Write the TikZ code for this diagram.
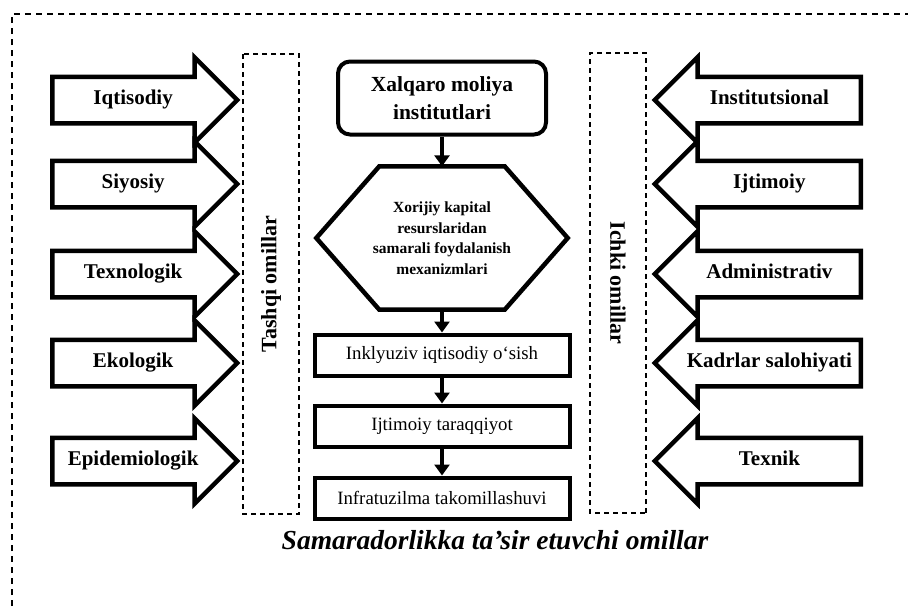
\documentclass[tikz,border=0pt]{standalone}
\usepackage{fontspec}
\setmainfont{Liberation Serif}
\usetikzlibrary{shapes.arrows,arrows.meta}

\begin{document}
\begin{tikzpicture}[x=1pt, y=-1pt,
    factor/.style={single arrow, draw=black, line width=4.5pt, single arrow head extend=19.5pt, minimum height=185pt, inner xsep=4pt, inner ysep=11.5pt, text height=14pt, text depth=5pt, font=\fontsize{21}{25}\selectfont\bfseries},
    factorin/.style={factor, minimum height=206pt, shape border rotate=180},
    group/.style={rectangle, draw=black, dash pattern=on 5pt off 4pt, line width=1.3pt, minimum width=460pt, minimum height=56pt, font=\fontsize{22}{26}\selectfont\bfseries},
    source/.style={rectangle, rounded corners=12pt, draw=black, line width=4pt, minimum width=208pt, minimum height=73pt, align=center, font=\fontsize{21.5}{28}\selectfont\bfseries},
    mech/.style={rectangle, minimum width=251pt, minimum height=143pt, align=center, font=\fontsize{15.5}{20.5}\selectfont\bfseries},
    result/.style={rectangle, draw=black, line width=4pt, minimum width=255pt, minimum height=41pt, font=\fontsize{18.8}{22}\selectfont},
    flow/.style={-{Triangle[length=11pt,width=15pt]}, line width=4pt},
    frame/.style={draw=black, dash pattern=on 6pt off 5pt, line width=1.5pt},
    caption/.style={font=\fontsize{27.5}{31}\selectfont\bfseries\itshape}
]
\useasboundingbox (0,0) rectangle (908,606);

% Outer frame
\draw[frame] (12,606) -- (12,14) -- (908,14);

% External factors
\node[factor, anchor=tail] (iqtisodiy) at (50,100) {Iqtisodiy};
\node[factor, anchor=tail] (siyosiy) at (50,184) {Siyosiy};
\node[factor, anchor=tail] (texnologik) at (50,274) {Texnologik};
\node[factor, anchor=tail] (ekologik) at (50,363) {Ekologik};
\node[factor, anchor=tail] (epidem) at (50,461) {Epidemiologik};
\node[group, rotate=90] (external) at (271,284) {Tashqi omillar};

% Internal factors
\node[factorin, anchor=tail] (instit) at (863,100) {Institutsional};
\node[factorin, anchor=tail] (ijtimoiy) at (863,184) {Ijtimoiy};
\node[factorin, anchor=tail] (admin) at (863,274) {Administrativ};
\node[factorin, anchor=tail] (kadr) at (863,363) {Kadrlar salohiyati};
\node[factorin, anchor=tail] (texnik) at (863,461) {Texnik};
\node[group, rotate=-90] (internal) at (618,283) {Ichki omillar};

% Central chain
\node[source] (imf) at (442,98) {Xalqaro moliya\\institutlari};
\node[mech] (mechanism) at (442,238) {Xorijiy kapital\\resurslaridan\\samarali foydalanish\\mexanizmlari};
\draw[line width=4.5pt, line join=miter] (mechanism.west) -- ([xshift=63pt]mechanism.north west) -- ([xshift=-63pt]mechanism.north east) -- (mechanism.east) -- ([xshift=-63pt]mechanism.south east) -- ([xshift=63pt]mechanism.south west) -- cycle;
\node[result] (inclusive) at (442,355) {Inklyuziv iqtisodiy o‘sish};
\node[result] (social) at (442,426) {Ijtimoiy taraqqiyot};
\node[result] (infra) at (442,498) {Infratuzilma takomillashuvi};

\draw[flow] (imf.south) -- (mechanism.north);
\draw[flow] (mechanism.south) -- (inclusive.north);
\draw[flow] (inclusive.south) -- (social.north);
\draw[flow] (social.south) -- (infra.north);

% Caption
\node[caption] (title) at (495,540) {Samaradorlikka ta’sir etuvchi omillar};

\end{tikzpicture}
\end{document}
